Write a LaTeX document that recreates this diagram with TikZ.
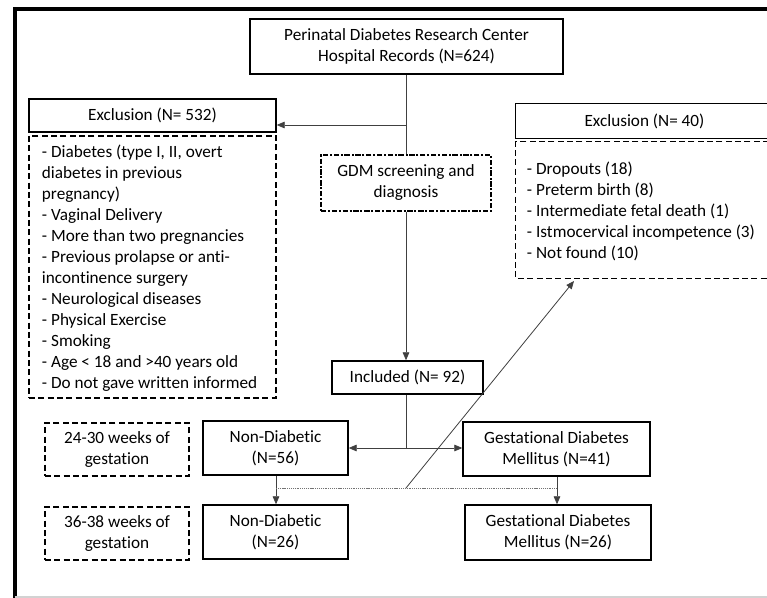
\documentclass[tikz,border=0pt]{standalone}
\usepackage{fontspec}
\setmainfont{Carlito}[Ligatures=NoCommon]
\usetikzlibrary{arrows.meta}
\newdimen\px
\px=0.75pt
\tikzset{
  base/.style={inner sep=0pt, font=\fontsize{12.9}{15.75}\selectfont, align=center},
  listtext/.style={base, align=left, anchor=west},
  boxline/.style={draw=black, line width=1.1pt},
  solidbox/.style={base, boxline},
  dashpat/.style={dash pattern=on 4.5pt off 2.5pt},
  dashbox/.style={base, boxline, dashpat},
  dotdashbox/.style={base, boxline, dash pattern=on 4pt off 1.3pt on 1.5pt off 1.3pt},
  conn/.style={draw=black!75, line width=0.6pt},
  arr/.style={conn, -{Triangle[length=6pt,width=5pt]}},
  dotconn/.style={draw=black!55, line width=0.7pt, dash pattern=on 0.8pt off 0.6pt}
}
\begin{document}
\begin{tikzpicture}[x=0.75pt,y=-0.75pt]
\useasboundingbox (0,0) rectangle (767,598);
\clip (0,0) rectangle (767,598);
\fill[white] (0,0) rectangle (767,598);
% frame
\draw[line width=3pt] (14.7,598) -- (14.7,8.7) -- (767,8.7);
\draw[gray!35, line width=0.8pt] (14.7,597) -- (767,597);

% nodes
\node[solidbox, minimum width=313\px, minimum height=55\px] (top) at (406.5,46.5)
  {Perinatal Diabetes Research Center\\Hospital Records (N=624)};
\node[solidbox, minimum width=247\px, minimum height=33\px] (ex1) at (152.5,115.5)
  {Exclusion (N= 532)};
\node[dashbox, minimum width=247\px, minimum height=262\px] (ex1list) at (152.5,267) {};
\node[listtext] (ex1text) at (41.7,268.5)
  {- Diabetes (type I, II, overt\\
   diabetes in previous\\
   pregnancy)\\
   - Vaginal Delivery\\
   - More than two pregnancies\\
   - Previous prolapse or anti-\\
   incontinence surgery\\
   - Neurological diseases\\
   - Physical Exercise\\
   - Smoking\\
   - Age < 18 and >40 years old\\
   - Do not gave written informed};
\node[dotdashbox, minimum width=170\px, minimum height=56\px] (gdm) at (406,183)
  {GDM screening and\\diagnosis};
% boxes that run past the right edge of the picture (open on the right)
\node[base, minimum width=290\px, minimum height=34\px] (ex2) at (661,121) {};
\draw[boxline] (ex2.north east) -- (ex2.north west) -- (ex2.south west) -- (ex2.south east);
\node[base] (ex2label) at (644.5,121) {Exclusion (N= 40)};
\node[base, minimum width=290\px, minimum height=136\px] (ex2list) at (661,210) {};
\draw[boxline, dashpat] (ex2list.north east) -- (ex2list.north west) -- (ex2list.south west) -- (ex2list.south east);
\node[listtext] (ex2text) at (526.7,211.5)
  {- Dropouts (18)\\
   - Preterm birth (8)\\
   - Intermediate fetal death (1)\\
   - Istmocervical incompetence (3)\\
   - Not found (10)};
\node[solidbox, minimum width=151\px, minimum height=33\px] (incl) at (407.5,377.5)
  {Included (N= 92)};
\node[dashbox, minimum width=144\px, minimum height=53\px] (w1) at (117,449.5)
  {24-30 weeks of\\gestation};
\node[solidbox, minimum width=145\px, minimum height=54\px] (nd1) at (275.5,448)
  {Non-Diabetic\\(N=56)};
\node[solidbox, minimum width=187\px, minimum height=54\px] (gd1) at (556.5,449)
  {Gestational Diabetes\\Mellitus (N=41)};
\node[dashbox, minimum width=144\px, minimum height=53\px] (w2) at (117,533.5)
  {36-38 weeks of\\gestation};
\node[solidbox, minimum width=145\px, minimum height=54\px] (nd2) at (275.5,532)
  {Non-Diabetic\\(N=26)};
\node[solidbox, minimum width=186\px, minimum height=55\px] (gd2) at (558,532.5)
  {Gestational Diabetes\\Mellitus (N=26)};

% connectors
\coordinate (b1) at (406,125);
\coordinate (b2) at (406,448);
\coordinate (d1) at (276,488);
\coordinate (d0) at (406,488);
\coordinate (d2) at (557,488);
\coordinate (tip) at (574,281);

\draw[conn] (top.south -| b1) -- (gdm.north -| b1);
\draw[arr] (b1) -- (b1 -| ex1.east);
\draw[arr] (gdm.south -| b1) -- (incl.north -| b1);
\draw[conn] (incl.south -| b2) -- (b2);
\draw[arr] (b2) -- (b2 -| nd1.east);
\draw[arr] (b2) -- (b2 -| gd1.west);
\draw[arr] (nd1.south -| d1) -- (nd2.north -| d1);
\draw[arr] (gd1.south -| d2) -- (gd2.north -| d2);
\draw[dotconn] (d1) -- (d2);
\draw[arr] (d0) -- (tip);
\end{tikzpicture}
\end{document}
